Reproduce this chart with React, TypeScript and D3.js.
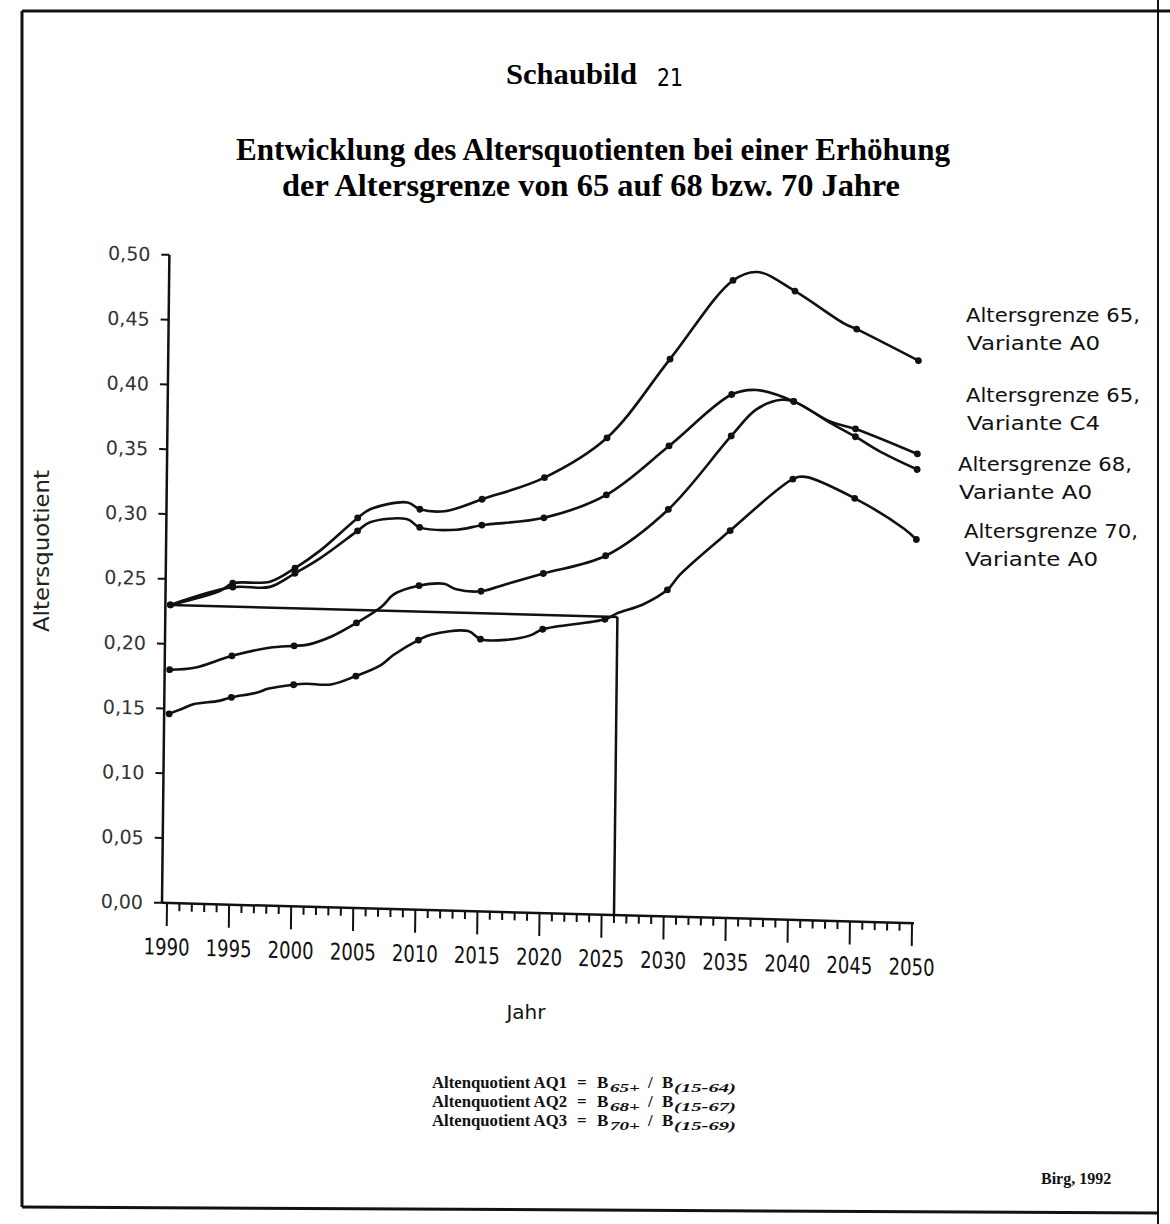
import * as d3 from 'd3';

type Pt = { year: number; v: number };

// axis ticks
const yearTicks = d3.range(1990, 2051, 1);
const yearLabels = d3.range(1990, 2051, 5);
const valueTicks = [0, 0.05, 0.1, 0.15, 0.2, 0.25, 0.3, 0.35, 0.4, 0.45, 0.5];

// Altersgrenze 65, Variante A0
const ag65A0: Pt[] = [
  { year: 1990, v: 0.230 }, { year: 1994, v: 0.242 }, { year: 1995, v: 0.248 }, { year: 1998, v: 0.250 },
  { year: 2000, v: 0.261 }, { year: 2002, v: 0.275 }, { year: 2005, v: 0.301 }, { year: 2006, v: 0.308 },
  { year: 2009, v: 0.314 }, { year: 2010, v: 0.309 }, { year: 2012, v: 0.308 }, { year: 2015, v: 0.318 },
  { year: 2020, v: 0.336 }, { year: 2025, v: 0.368 }, { year: 2030, v: 0.430 }, { year: 2035, v: 0.492 },
  { year: 2037, v: 0.499 }, { year: 2040, v: 0.485 }, { year: 2044, v: 0.461 }, { year: 2045, v: 0.457 },
  { year: 2050, v: 0.434 },
];

// Altersgrenze 65, Variante C4
const ag65C4: Pt[] = [
  { year: 1990, v: 0.230 }, { year: 1995, v: 0.245 }, { year: 1998, v: 0.246 }, { year: 2000, v: 0.257 },
  { year: 2002, v: 0.269 }, { year: 2005, v: 0.291 }, { year: 2006, v: 0.298 }, { year: 2009, v: 0.301 },
  { year: 2010, v: 0.295 }, { year: 2013, v: 0.294 }, { year: 2015, v: 0.298 }, { year: 2020, v: 0.305 },
  { year: 2025, v: 0.324 }, { year: 2030, v: 0.363 }, { year: 2035, v: 0.404 }, { year: 2037, v: 0.408 },
  { year: 2040, v: 0.400 }, { year: 2043, v: 0.385 }, { year: 2045, v: 0.380 }, { year: 2050, v: 0.362 },
];

// Altersgrenze 68, Variante A0
const ag68A0: Pt[] = [
  { year: 1990, v: 0.180 }, { year: 1992, v: 0.182 }, { year: 1995, v: 0.192 }, { year: 1998, v: 0.199 },
  { year: 2000, v: 0.201 }, { year: 2001, v: 0.202 }, { year: 2003, v: 0.209 }, { year: 2005, v: 0.220 },
  { year: 2007, v: 0.233 }, { year: 2008, v: 0.243 }, { year: 2010, v: 0.250 }, { year: 2012, v: 0.252 },
  { year: 2013, v: 0.248 }, { year: 2015, v: 0.247 }, { year: 2017, v: 0.253 }, { year: 2020, v: 0.262 },
  { year: 2025, v: 0.277 }, { year: 2030, v: 0.314 }, { year: 2035, v: 0.372 }, { year: 2037, v: 0.393 },
  { year: 2039, v: 0.401 }, { year: 2040, v: 0.400 }, { year: 2043, v: 0.384 }, { year: 2045, v: 0.374 },
  { year: 2047, v: 0.363 }, { year: 2050, v: 0.350 },
];

// Altersgrenze 70, Variante A0
const ag70A0: Pt[] = [
  { year: 1990, v: 0.146 }, { year: 1991, v: 0.150 }, { year: 1992, v: 0.154 }, { year: 1994, v: 0.157 },
  { year: 1995, v: 0.160 }, { year: 1997, v: 0.164 }, { year: 1998, v: 0.1675 }, { year: 2000, v: 0.171 },
  { year: 2001, v: 0.172 }, { year: 2003, v: 0.172 }, { year: 2005, v: 0.179 }, { year: 2007, v: 0.188 },
  { year: 2008, v: 0.196 }, { year: 2010, v: 0.208 }, { year: 2011, v: 0.2125 }, { year: 2014, v: 0.216 },
  { year: 2015, v: 0.210 }, { year: 2017, v: 0.210 }, { year: 2019, v: 0.214 }, { year: 2020, v: 0.219 },
  { year: 2025, v: 0.228 }, { year: 2026, v: 0.233 }, { year: 2028, v: 0.240 }, { year: 2030, v: 0.252 },
  { year: 2031, v: 0.264 }, { year: 2035, v: 0.299 }, { year: 2040, v: 0.340 }, { year: 2041, v: 0.342 },
  { year: 2045, v: 0.3265 }, { year: 2049, v: 0.304 }, { year: 2050, v: 0.296 },
];

const allSeries = [ag65A0, ag65C4, ag68A0, ag70A0];

// reference: AQ 1990 level reached again
const refValue = 0.23;
const refYear = 2026;

const legendLabels = [
  ['Altersgrenze 65,', 'Variante A0'],
  ['Altersgrenze 65,', 'Variante C4'],
  ['Altersgrenze 68,', 'Variante A0'],
  ['Altersgrenze 70,', 'Variante A0'],
];

const footnotes = [
  { aq: 'AQ1', a: '65+', b: '(15-64)' },
  { aq: 'AQ2', a: '68+', b: '(15-67)' },
  { aq: 'AQ3', a: '70+', b: '(15-69)' },
];

const W = 1170, H = 1224;
const ox = 167, oy = 903;
// the scan is a bit skewed
const skew = `matrix(1,0.027,-0.0114,1,${ox},${oy})`;

export default function App() {
  const x = d3.scaleLinear().domain([1990, 2050]).range([0, 745]);
  const y = d3.scaleLinear().domain([0, 0.5]).range([0, -648]);
  const line = d3.line<Pt>().x(d => x(d.year)).y(d => y(d.v)).curve(d3.curveCatmullRom.alpha(0.5));
  const axisX = x(1990) - 5;
  const fmt = (v: number) => v.toFixed(2).replace('.', ',');
  const sans = 'DejaVu Sans, sans-serif';
  const serif = 'Liberation Serif, Times New Roman, serif';
  const legendX = [966, 966, 958, 964];
  const legendY = [322, 402, 471, 538];

  return (
    <svg width={W} height={H} style={{ position: 'absolute', left: 0, top: 0, background: '#fff' }}>
      <rect width={W} height={H} fill="#fff" />
      {/* border */}
      <g stroke="#111" strokeWidth={3} fill="none">
        <line x1={22} y1={11} x2={W} y2={11} />
        <line x1={22} y1={11} x2={22} y2={1207} />
        <line x1={22} y1={1207} x2={1158} y2={1213} />
        <line x1={1158} y1={0} x2={1158} y2={H} strokeWidth={2} />
      </g>

      {/* titles */}
      <text x={506} y={84} fontFamily={serif} fontWeight="bold" fontSize={30} textLength={131} lengthAdjust="spacingAndGlyphs">Schaubild</text>
      <text x={657} y={86} fontFamily={sans} fontSize={24} textLength={26} lengthAdjust="spacingAndGlyphs">21</text>
      <text x={236} y={160} fontFamily={serif} fontWeight="bold" fontSize={31} textLength={714} lengthAdjust="spacingAndGlyphs">Entwicklung des Altersquotienten bei einer Erhöhung</text>
      <text x={282} y={196} fontFamily={serif} fontWeight="bold" fontSize={31} textLength={618} lengthAdjust="spacingAndGlyphs">der Altersgrenze von 65 auf 68 bzw. 70 Jahre</text>

      {/* y axis title */}
      <text transform="translate(49,551) rotate(-90)" textAnchor="middle" fontFamily={sans} fontSize={21} fill="#222" textLength={162} lengthAdjust="spacingAndGlyphs">Altersquotient</text>

      <g transform={skew}>
        {/* y axis */}
        <line x1={axisX} y1={0} x2={axisX} y2={y(0.5)} stroke="#111" strokeWidth={2.5} />
        {valueTicks.map(t => (
          <g key={t}>
            <line x1={axisX - 8} x2={axisX} y1={y(t)} y2={y(t)} stroke="#111" strokeWidth={2} />
            <text x={axisX - 19} y={y(t)} dy="0.35em" textAnchor="end" fontFamily={sans} fontSize={19} fill="#333">{fmt(t)}</text>
          </g>
        ))}
        {/* x axis */}
        <line x1={axisX} y1={0} x2={x(2050) + 2} y2={0} stroke="#111" strokeWidth={2.5} />
        {yearTicks.map(t => (
          <line key={t} x1={x(t)} x2={x(t)} y1={0} y2={t % 5 === 0 ? 23 : 8} stroke="#111" strokeWidth={2} />
        ))}
        {yearLabels.map(t => (
          <text key={t} x={x(t)} y={52} textAnchor="middle" fontFamily={sans} fontSize={23} fill="#111" textLength={46} lengthAdjust="spacingAndGlyphs">{t}</text>
        ))}

        {/* reference lines */}
        <line x1={x(1990)} y1={y(refValue)} x2={x(refYear)} y2={y(refValue)} stroke="#111" strokeWidth={2.5} />
        <line x1={x(refYear)} y1={y(refValue)} x2={x(refYear)} y2={0} stroke="#111" strokeWidth={2.5} />

        {/* series */}
        {allSeries.map((s, i) => (
          <g key={i}>
            <path d={line(s) || ''} fill="none" stroke="#111" strokeWidth={2.6} />
            {s.filter(d => d.year % 5 === 0).map(d => (
              <circle key={d.year} cx={x(d.year)} cy={y(d.v)} r={3.4} fill="#111" />
            ))}
          </g>
        ))}
      </g>

      <text x={526} y={1019} textAnchor="middle" fontFamily={sans} fontSize={20} fill="#111">Jahr</text>

      {/* legend */}
      {legendLabels.map((l, i) => (
        <g key={i} fontFamily={sans} fontSize={20} fill="#111">
          <text x={legendX[i]} y={legendY[i]} textLength={174} lengthAdjust="spacingAndGlyphs">{l[0]}</text>
          <text x={legendX[i] + 1} y={legendY[i] + 28} textLength={133} lengthAdjust="spacingAndGlyphs">{l[1]}</text>
        </g>
      ))}

      {/* formulas */}
      {footnotes.map((f, i) => {
        const by = 1088 + i * 19;
        return (
          <g key={f.aq} fontFamily={serif} fontWeight="bold" fill="#111">
            <text x={432} y={by} fontSize={17} textLength={135} lengthAdjust="spacingAndGlyphs">{`Altenquotient ${f.aq}`}</text>
            <text x={577} y={by} fontSize={17}>=</text>
            <text x={597} y={by} fontSize={17}>B</text>
            <text x={610} y={by + 4} fontSize={13} fontStyle="italic" textLength={30} lengthAdjust="spacingAndGlyphs">{f.a}</text>
            <text x={648} y={by} fontSize={17}>/</text>
            <text x={662} y={by} fontSize={17}>B</text>
            <text x={674} y={by + 4} fontSize={13} fontStyle="italic" textLength={62} lengthAdjust="spacingAndGlyphs">{f.b}</text>
          </g>
        );
      })}

      <text x={1041} y={1184} fontFamily={serif} fontWeight="bold" fontSize={16} fill="#111">Birg, 1992</text>
    </svg>
  );
}
